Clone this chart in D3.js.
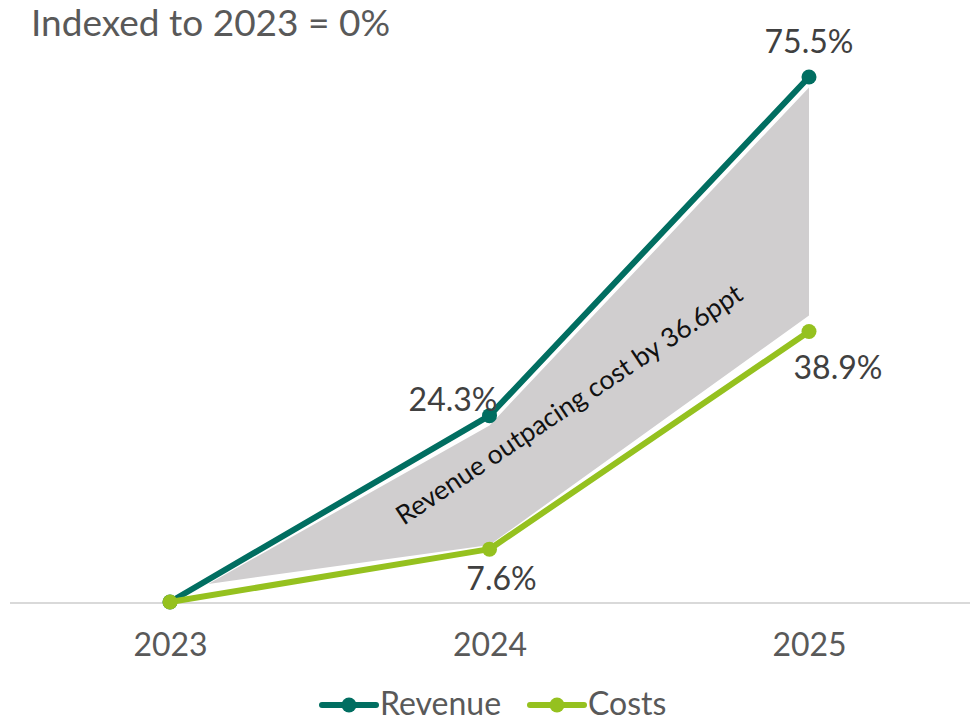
<!DOCTYPE html>
<html>
<head>
<meta charset="utf-8">
<script src="https://cdn.jsdelivr.net/npm/d3@7"></script>
<style>
  body { margin: 0; background: #fff; }
  svg { font-family: Lato, "Open Sans", sans-serif; }
</style>
</head>
<body>
<svg id="chart" width="972" height="722"></svg>
<script>
// chart data
const years = [2023, 2024, 2025];
const revenue = [0, 26.8, 75.5];
const costs = [0, 7.6, 38.9];
const revenueLabels = ['', '24.3%', '75.5%'];
const costsLabels = ['', '7.6%', '38.9%'];

// shaded gap band between the two series
const gapYears = [2023.12, 2024, 2025];
const gapUpper = [2.6, 25.4, 74.0];
const gapLower = [2.6, 8.2, 41.2];

const title = 'Indexed to 2023 = 0%';
const note = 'Revenue outpacing cost by 36.6ppt';

const revColor = '#016e61';
const costColor = '#95c11f';

const svg = d3.select('#chart');

const x = d3.scaleLinear().domain([2023, 2025]).range([170, 809]);
const y = d3.scaleLinear().domain([0, 75.5]).range([602, 77]);

// title
svg.append('text')
    .attr('x', 31).attr('y', 36)
    .attr('font-size', 37)
    .attr('fill', '#595959')
    .text(title);

// baseline
svg.append('line')
    .attr('x1', 10).attr('x2', 970)
    .attr('y1', y(0) + 1).attr('y2', y(0) + 1)
    .attr('stroke', '#d9d9d9').attr('stroke-width', 2);

// x axis
const xAxis = d3.axisBottom(x).tickValues(years).tickFormat(d3.format('d')).tickSize(0).tickPadding(31);
const gx = svg.append('g').attr('transform', `translate(0,${y(0)})`).call(xAxis);
gx.select('.domain').remove();
gx.selectAll('text').attr('font-size', 32).attr('fill', '#595959').attr('font-family', 'Lato, sans-serif');

// gap band
const band = d3.area()
    .x((d, i) => x(gapYears[i]))
    .y0((d, i) => y(gapLower[i]))
    .y1((d, i) => y(gapUpper[i]));
svg.append('path')
    .datum(gapYears)
    .attr('d', band)
    .attr('fill', '#d0cecf');

// annotation
const mid = [x(2024.265), y(27.3)];
svg.append('text')
    .attr('transform', `translate(${mid[0]},${mid[1]}) rotate(-33.7)`)
    .attr('text-anchor', 'middle')
    .attr('font-size', 26.5)
    .attr('fill', '#111')
    .text(note);

const line = d3.line().x((d, i) => x(years[i])).y(d => y(d));

function series(values, color) {
    svg.append('path')
        .datum(values)
        .attr('d', line)
        .attr('fill', 'none')
        .attr('stroke', color)
        .attr('stroke-width', 6)
        .attr('stroke-linejoin', 'round');
    svg.selectAll(null)
        .data(values)
        .enter()
        .append('circle')
        .attr('cx', (d, i) => x(years[i]))
        .attr('cy', d => y(d))
        .attr('r', 7.5)
        .attr('fill', color);
}
series(revenue, revColor);
series(costs, costColor);

// data labels
const labelStyle = sel => sel.attr('font-size', 32).attr('fill', '#404040');
svg.append('text').call(labelStyle)
    .attr('x', x(2024) + 8).attr('y', y(revenue[1]) - 5)
    .attr('text-anchor', 'end').text(revenueLabels[1]);
svg.append('text').call(labelStyle)
    .attr('x', x(2025)).attr('y', y(revenue[2]) - 24)
    .attr('text-anchor', 'middle').text(revenueLabels[2]);
svg.append('text').call(labelStyle)
    .attr('x', x(2024) + 12).attr('y', y(costs[1]) + 41)
    .attr('text-anchor', 'middle').text(costsLabels[1]);
svg.append('text').call(labelStyle)
    .attr('x', x(2025) + 29).attr('y', y(costs[2]) + 47)
    .attr('text-anchor', 'middle').text(costsLabels[2]);

// legend
const legend = [
    { name: 'Revenue', color: revColor, x: 322 },
    { name: 'Costs', color: costColor, x: 530 }
];
const lg = svg.selectAll('.legend')
    .data(legend)
    .enter()
    .append('g')
    .attr('class', 'legend')
    .attr('transform', d => `translate(${d.x},705)`);
lg.append('line')
    .attr('x1', 0).attr('x2', 54)
    .attr('stroke', d => d.color).attr('stroke-width', 6)
    .attr('stroke-linecap', 'round');
lg.append('circle')
    .attr('cx', 27).attr('r', 7.5)
    .attr('fill', d => d.color);
lg.append('text')
    .attr('x', 58).attr('y', 10)
    .attr('font-size', 32)
    .attr('fill', '#595959')
    .text(d => d.name);
</script>
</body>
</html>
